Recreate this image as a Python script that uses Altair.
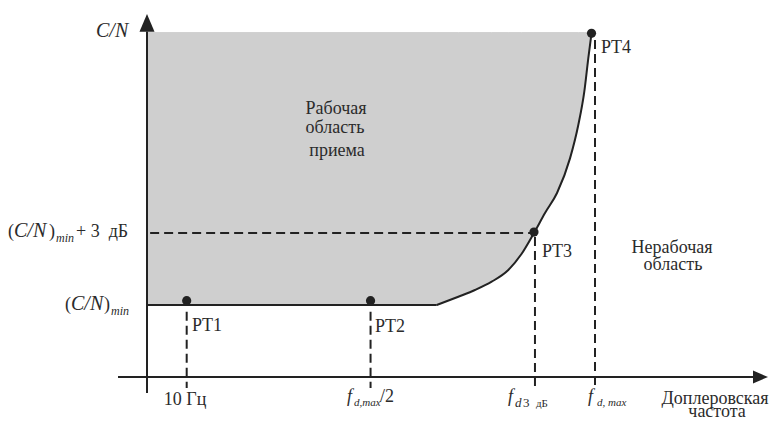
import altair as alt
import pandas as pd

# ---------------- data (abstract units: f in units of f_d,max ; C/N in dB above axis origin)
flat_f = [0.0, 0.6467]
flat_cn = [3.0, 3.0]
curve_f = [0.6467, 0.6949, 0.7321, 0.7694, 0.8065, 0.8359, 0.8638, 0.8884, 0.9152, 0.9442, 0.9627, 0.9761, 0.985, 0.9922]
curve_cn = [3.0, 3.346, 3.625, 3.971, 4.458, 5.125, 6.0, 6.833, 7.667, 9.11, 10.5, 11.89, 13.28, 14.32]
cn_top = 14.35

pt_names = ["PT1", "PT2", "PT3", "PT4"]
pt_f = [0.0886, 0.499, 0.8638, 0.9922]
pt_cn = [3.18, 3.18, 6.04, 14.32]

guide_f = [0.0886, 0.499, 0.866, 1.0]
guide_top = [2.72, 2.72, 5.83, 14.04]
guide_bottom = -0.46
cn_3db = 6.0

# label texts
lbl_normal_left = ["(", ")", "+\u00a03\u00a0\u00a0дБ", "(", ")", "PT1", "PT2", "PT3", "PT4", "/2", "3", "дБ"]
lbl_italic_left = ["C/N", "C/N", "min", "C/N", "min", "f", "d,max", "f", "d", "f", "d,\u00a0max"]
lbl_center = ["Рабочая", "область", "приема", "Нерабочая", "область", "10 Гц", "Доплеровская", "частота"]

# label anchors (same units)
pos_normal_left = [(-0.3103, 5.833, 18), (-0.2188, 5.833, 18), (-0.1585, 5.833, 18),
                   (-0.183, 2.79, 18), (-0.0960, 2.79, 18),
                   (0.1004, 1.917, 18), (0.5089, 1.875, 18), (0.8817, 5.0, 18), (1.0134, 13.5, 18),
                   (0.5201, -1.042, 18), (0.8393, -1.25, 13), (0.8683, -1.25, 11)]
pos_italic_left = [(-0.1138, 14.17, 20), (-0.2969, 5.833, 20), (-0.2031, 5.625, 12),
                   (-0.1696, 2.79, 20), (-0.0804, 2.583, 12),
                   (0.4464, -1.042, 18), (0.462, -1.208, 11),
                   (0.8058, -1.042, 18), (0.8214, -1.25, 13),
                   (0.9844, -1.042, 18), (1.0045, -1.208, 11)]
pos_center = [(0.4219, 10.958, 18), (0.4196, 10.167, 18), (0.4241, 9.208, 18),
              (1.1719, 5.167, 18), (1.1741, 4.458, 18),
              (0.0848, -1.167, 18), (1.2679, -1.125, 18), (1.2725, -1.667, 18)]

# ---------------- frames
W, H = 761, 413
XDOM = [(8 - 147) / 448, (8 + W - 147) / 448]
YDOM = [(377 - 8 - H) / 24, (377 - 8) / 24]
INK = "#222222"
TXT = "#2b2b2b"
GRAY = "#cfcfcf"
FONT = "Liberation Serif"


def X(field="f"):
    return alt.X(f"{field}:Q", scale=alt.Scale(domain=XDOM, nice=False, zero=False), axis=None)


def Y(field="cn"):
    return alt.Y(f"{field}:Q", scale=alt.Scale(domain=YDOM, nice=False, zero=False), axis=None)


flat = pd.DataFrame({"f": flat_f, "cn": flat_cn, "top": [cn_top] * len(flat_f)})
curve = pd.DataFrame({"f": curve_f, "cn": curve_cn, "top": [cn_top] * len(curve_f)})
pts = pd.DataFrame({"name": pt_names, "f": pt_f, "cn": pt_cn})
guides = pd.DataFrame({"f": guide_f, "cn": guide_top, "cn2": [guide_bottom] * 4})
hguide = pd.DataFrame({"f": [0.007], "f2": [pt_f[2]], "cn": [cn_3db]})
xaxis = pd.DataFrame({"f": [-0.0647], "f2": [1.3527], "cn": [0.0]})
yaxis = pd.DataFrame({"f": [0.0], "cn": [-0.667], "cn2": [14.4]})
xarrow = pd.DataFrame({"f": [1.3694], "cn": [0.0]})
yarrow = pd.DataFrame({"f": [0.0], "cn": [14.758]})


def lab(texts, pos):
    return pd.DataFrame({"t": texts, "f": [p[0] for p in pos], "cn": [p[1] for p in pos],
                         "s": [p[2] for p in pos]})


area1 = alt.Chart(flat).mark_area(color=GRAY, stroke=GRAY, strokeWidth=1, opacity=1).encode(
    x=X(), y=Y(), y2="top:Q")
area2 = alt.Chart(curve).mark_area(color=GRAY, stroke=GRAY, strokeWidth=1, interpolate="monotone",
                                   opacity=1).encode(x=X(), y=Y(), y2="top:Q")
line1 = alt.Chart(flat).mark_line(color=INK, strokeWidth=2).encode(x=X(), y=Y())
line2 = alt.Chart(curve).mark_line(color=INK, strokeWidth=2, interpolate="monotone").encode(x=X(), y=Y())
vdash = alt.Chart(guides).mark_rule(color=INK, strokeWidth=2, strokeDash=[9, 5]).encode(
    x=X(), y=Y(), y2="cn2:Q")
hdash = alt.Chart(hguide).mark_rule(color=INK, strokeWidth=2, strokeDash=[9, 5]).encode(
    x=X(), x2="f2:Q", y=Y())
xax = alt.Chart(xaxis).mark_rule(color=INK, strokeWidth=2).encode(x=X(), x2="f2:Q", y=Y())
yax = alt.Chart(yaxis).mark_rule(color=INK, strokeWidth=2).encode(x=X(), y=Y(), y2="cn2:Q")
xarr = alt.Chart(xarrow).mark_point(shape="M1,0L-1,-0.87L-1,0.87Z", filled=True, size=225,
                                    color=INK, opacity=1).encode(x=X(), y=Y())
yarr = alt.Chart(yarrow).mark_point(shape="M0,-1L0.85,1L-0.85,1Z", filled=True, size=313,
                                    color=INK, opacity=1).encode(x=X(), y=Y())
dots = alt.Chart(pts).mark_circle(color=INK, size=85, opacity=1).encode(x=X(), y=Y())


def texts(df, align, style):
    return alt.Chart(df).mark_text(font=FONT, fontStyle=style, align=align, baseline="alphabetic",
                                   color=TXT).encode(
        x=X(), y=Y(), text="t:N", size=alt.Size("s:Q", scale=None))


t1 = texts(lab(lbl_normal_left, pos_normal_left), "left", "normal")
t2 = texts(lab(lbl_italic_left, pos_italic_left), "left", "italic")
t3 = texts(lab(lbl_center, pos_center), "center", "normal")

chart = alt.layer(area1, area2, line1, line2, vdash, hdash, xax, yax, xarr, yarr, dots, t1, t2, t3).properties(
    width=W, height=H, padding=0, autosize=alt.AutoSizeParams(type="none"), background="white"
).configure_view(stroke=None)

chart.save("out.html", embed_options={"renderer": "svg", "actions": False})
